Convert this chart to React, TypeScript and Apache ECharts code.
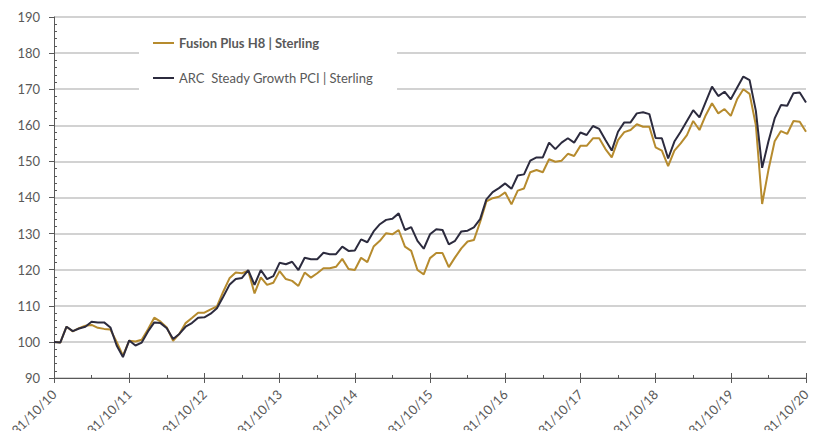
import React, { useEffect, useRef } from "react";
import * as echarts from "echarts";

const seriesNames = ["Fusion Plus H8 | Sterling", "ARC  Steady Growth PCI | Sterling"];

const fusionValues = [
  100, 99.8, 104.2, 102.9, 103.8, 104.5, 104.7, 103.9, 103.6, 103.4, 100, 96.2,
  100.3, 100.1, 100.6, 103.5, 106.7, 105.6, 104, 100.3, 102.2, 105.2, 106.6, 108.1,
  108.1, 109, 109.8, 113.9, 117.6, 119.2, 119, 119.7, 113.4, 117.9, 115.8, 116.4,
  119.6, 117.4, 116.9, 115.5, 119.2, 117.8, 119, 120.4, 120.4, 120.8, 123, 120.2,
  119.9, 123.3, 122.1, 126.4, 128, 130.1, 129.8, 131, 126.4, 125.2, 119.9, 118.7,
  123.2, 124.6, 124.6, 120.7, 123.4, 125.9, 127.8, 128.2, 133.2, 138.9, 139.8, 140.2,
  141.4, 138.1, 141.9, 142.5, 147, 147.6, 147, 150.6, 149.9, 150.2, 152.1, 151.5,
  154.3, 154.3, 156.4, 156.4, 153.4, 151.1, 155.9, 158.1, 158.7, 160.3, 159.6, 159.6,
  153.9, 153, 148.7, 153, 155, 157.3, 161.2, 158.7, 162.8, 166.1, 163.3, 164.5,
  162.6, 167.2, 170, 168.7, 160, 138.2, 147.6, 155.6, 158.4, 157.6, 161.2, 161,
  158.2,
];

const arcValues = [
  100, 99.8, 104.2, 103, 103.7, 104.2, 105.6, 105.4, 105.4, 104, 99, 95.8,
  100.4, 99, 99.8, 102.9, 105.4, 105.2, 103.8, 100.8, 102.2, 104.2, 105.2, 106.7,
  106.8, 107.8, 109.3, 112.5, 115.8, 117.4, 117.7, 119.9, 115.8, 119.9, 117.4, 118.2,
  121.9, 121.5, 122.2, 119.9, 123.3, 122.9, 122.9, 124.7, 124.3, 124.3, 126.4, 125.2,
  125.3, 128.4, 127.6, 130.6, 132.6, 133.8, 134.1, 135.6, 131, 131.8, 128, 125.8,
  129.8, 131.2, 131, 127, 128, 130.6, 130.8, 131.7, 134, 139.5, 141.5, 142.6,
  143.9, 142.4, 146.1, 146.4, 150.2, 151.1, 151.1, 155.2, 153.4, 155.2, 156.4, 155.2,
  158, 157.3, 159.8, 159, 155.9, 153, 158.2, 160.8, 160.8, 163.3, 163.6, 163.1,
  156.5, 156.4, 150.8, 155.5, 158.2, 161.2, 164.2, 162.2, 166.5, 170.7, 168.1, 169.3,
  167.2, 170.4, 173.5, 172.5, 164, 148.2, 155.5, 161.9, 165.6, 165.4, 168.9, 169.1,
  166.3,
];

const yMin = 90;
const yMax = 190;
const yStep = 10;

// Month-end dates from Oct 2010 to Oct 2020 (category labels)
const pad = (n: number) => (n < 10 ? "0" + n : "" + n);
const categories: string[] = [];
for (let k = 0; k < fusionValues.length; k++) {
  const m = 9 + k; // 0-based month from Jan 2010
  const year = 2010 + Math.floor(m / 12);
  const month = (m % 12) + 1;
  const lastDay = new Date(year, month, 0).getDate();
  categories.push(`${pad(lastDay)}/${pad(month)}/${pad(year % 100)}`);
}

const TEXT = "#595959";
const AXIS = "#595959";
const GOLD = "#B68B2E";
const NAVY = "#2C2B3E";
const FONT = "Lato, 'Open Sans', sans-serif";

export default function App() {
  const ref = useRef<HTMLDivElement>(null);
  useEffect(() => {
    if (!ref.current) return;
    const chart = echarts.init(ref.current, undefined, { renderer: "svg" });
    const gridBox = { left: 54, right: 13, top: 17, bottom: 61 };
    const n = categories.length - 1;
    chart.setOption({
      animation: false,
      textStyle: { fontFamily: FONT },
      grid: [
        { ...gridBox, containLabel: false },
        { ...gridBox, containLabel: false },
      ],
      legend: {
        data: seriesNames,
        orient: "vertical",
        left: 139,
        top: 26,
        backgroundColor: "#ffffff",
        padding: [9, 24, 9, 14],
        itemGap: 19,
        itemWidth: 21,
        itemHeight: 2,
        icon: "rect",
        selectedMode: false,
        textStyle: {
          fontFamily: FONT,
          fontSize: 13,
          color: TEXT,
          lineHeight: 16,
          rich: {
            b: { fontWeight: "bold", fontFamily: FONT, fontSize: 13, color: TEXT },
          },
        },
        formatter: (name: string) =>
          name === seriesNames[0] ? `{b|${name}}` : name,
      },
      xAxis: [
        {
          type: "category",
          gridIndex: 0,
          data: categories,
          boundaryGap: false,
          axisLine: { lineStyle: { color: AXIS, width: 1 } },
          axisTick: {
            show: true,
            length: 5,
            interval: (idx: number) => idx % 12 === 0,
            lineStyle: { color: AXIS },
          },
          axisLabel: {
            interval: (idx: number) => idx % 12 === 0,
            rotate: 45,
            margin: 14,
            color: TEXT,
            fontSize: 13,
            fontFamily: FONT,
          },
          splitLine: { show: false },
        },
        {
          type: "value",
          gridIndex: 1,
          min: 0,
          max: n,
          interval: 12,
          axisLine: { show: false },
          axisLabel: { show: false },
          splitLine: { show: false },
          axisTick: { show: true, inside: true, length: 5, lineStyle: { color: AXIS } },
          minorTick: { show: true, splitNumber: 2, length: 3, lineStyle: { color: AXIS } },
        },
      ],
      yAxis: [
        {
          type: "value",
          gridIndex: 0,
          min: yMin,
          max: yMax,
          interval: yStep,
          axisLine: { show: true, lineStyle: { color: AXIS, width: 1 } },
          axisTick: { show: true, length: 5, lineStyle: { color: AXIS } },
          axisLabel: { color: TEXT, fontSize: 13, margin: 14, fontFamily: FONT },
          splitLine: { show: true, lineStyle: { color: "#C3C3C3", width: 1.5 } },
        },
        {
          type: "value",
          gridIndex: 1,
          min: yMin,
          max: yMax,
          interval: yStep,
          axisLine: { show: false },
          axisLabel: { show: false },
          splitLine: { show: false },
          axisTick: { show: true, inside: true, length: 0.01, lineStyle: { color: "rgba(0,0,0,0)" } },
          minorTick: { show: true, splitNumber: 5, length: 3, lineStyle: { color: AXIS } },
        },
      ],
      series: [
        {
          name: seriesNames[0],
          type: "line",
          xAxisIndex: 0,
          yAxisIndex: 0,
          data: fusionValues,
          showSymbol: false,
          symbol: "none",
          lineStyle: { color: GOLD, width: 2 },
          itemStyle: { color: GOLD },
          z: 3,
        },
        {
          name: seriesNames[1],
          type: "line",
          xAxisIndex: 0,
          yAxisIndex: 0,
          data: arcValues,
          showSymbol: false,
          symbol: "none",
          lineStyle: { color: NAVY, width: 2 },
          itemStyle: { color: NAVY },
          z: 4,
        },
      ],
    });
    return () => chart.dispose();
  }, []);
  return <div ref={ref} style={{ width: 819, height: 439, margin: -8 }} />;
}
